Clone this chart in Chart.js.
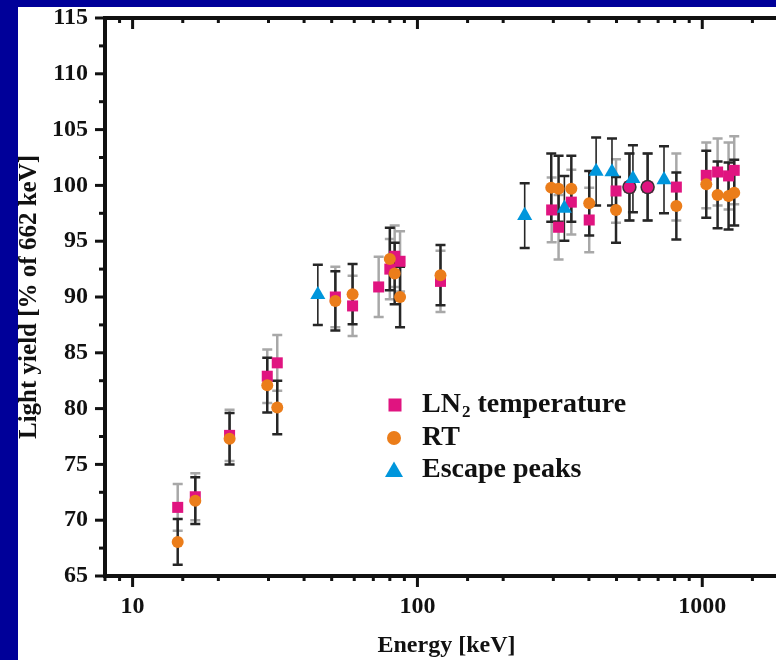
<!DOCTYPE html>
<html>
<head>
<meta charset="utf-8">
<script src="https://cdn.jsdelivr.net/npm/chart.js@4.4.1/dist/chart.umd.min.js"></script>
<style>
    html, body { margin: 0; padding: 0; overflow: hidden; background: #000099; width: 776px; height: 660px; }
    #paper { position: absolute; left: 18px; top: 7px; width: 800px; height: 700px; background: #fff; }
    #chart { position: absolute; left: 0; top: 0; }
</style>
</head>
<body>
<div id="paper"></div>
<canvas id="chart" width="800" height="660"></canvas>
<script>
// LN2 temperature (squares)
const ln2Energy = [14.4, 16.6, 21.9, 29.7, 32.2, 51.5, 59.2, 73.1, 80.0, 83.2, 86.9, 120.5, 296, 313, 347, 401, 498, 555, 643, 811, 1033, 1132, 1237, 1295];
const ln2Yield  = [71.15, 72.1, 77.6, 82.9, 84.1, 90.0, 89.2, 90.9, 92.5, 93.65, 93.2, 91.4, 97.8, 96.25, 98.5, 96.9, 99.5, 99.85, 99.85, 99.85, 100.9, 101.2, 100.85, 101.35];
const ln2Err    = [2.1, 2.1, 2.3, 2.4, 2.5, 2.7, 2.7, 2.7, 2.7, 2.75, 2.7, 2.75, 2.9, 2.9, 2.9, 2.9, 2.85, 3.0, 3.0, 3.0, 2.95, 3.0, 3.0, 3.05];

// room temperature (circles)
const rtEnergy = [14.4, 16.6, 21.9, 29.7, 32.2, 51.5, 59.2, 80.0, 83.2, 86.9, 120.5, 295, 313, 347, 401, 498, 555, 643, 811, 1033, 1132, 1237, 1295];
const rtYield  = [68.05, 71.75, 77.3, 82.1, 80.1, 89.65, 90.25, 93.4, 92.1, 90.0, 91.95, 99.8, 99.7, 99.7, 98.4, 97.8, 99.85, 99.85, 98.15, 100.1, 99.15, 99.05, 99.35];
const rtErr    = [2.05, 2.1, 2.3, 2.45, 2.4, 2.65, 2.7, 2.8, 2.75, 2.7, 2.7, 3.05, 2.95, 2.95, 2.9, 2.95, 3.0, 3.0, 3.0, 3.0, 3.0, 3.0, 2.95];
// RT points drawn as outlined magenta dots (the ones sitting on the LN2 squares)
const rtOverlapIdx = [16, 17];

// escape peaks (triangles)
const escEnergy = [44.7, 238, 328, 424, 482, 571, 734];
const escYield  = [90.2, 97.3, 97.95, 101.25, 101.2, 100.6, 100.5];
const escErr    = [2.7, 2.9, 2.9, 3.05, 3.0, 3.0, 3.0];

const xLabelled = [10, 100, 1000];
const seriesNames = ['LN2 temperature', 'RT', 'Escape peaks'];

const FONT = "'Liberation Serif', 'Times New Roman', serif";
const INK = '#111111';
const MAGENTA = '#E01480';
const ORANGE = '#EB7D1A';
const BLUE = '#0096DC';

const toPoints = (xs, ys, es) => xs.map((x, i) => ({ x: x, y: ys[i], err: es[i] }));

// kill the automatic label overflow padding so the plot box sits where we want it
const noPad = (s) => { s.paddingTop = 0; s.paddingBottom = 0; s.paddingLeft = 0; s.paddingRight = 0; };

// error bars, drawn under the markers
const errorBars = {
    id: 'errorBars',
    beforeDatasetsDraw(chart) {
        const { ctx, scales: { x, y } } = chart;
        chart.data.datasets.forEach((ds, i) => {
            if (!chart.isDatasetVisible(i)) return;
            const cap = 5;
            ctx.save();
            ctx.strokeStyle = ds.errColor;
            ds.data.forEach(p => {
                const px = x.getPixelForValue(p.x);
                const top = y.getPixelForValue(p.y + p.err);
                const bot = y.getPixelForValue(p.y - p.err);
                ctx.lineWidth = ds.errWidth;
                ctx.beginPath();
                ctx.moveTo(px, top); ctx.lineTo(px, bot);
                ctx.stroke();
                ctx.lineWidth = 2.5;
                ctx.beginPath();
                ctx.moveTo(px - cap, top); ctx.lineTo(px + cap, top);
                ctx.moveTo(px - cap, bot); ctx.lineTo(px + cap, bot);
                ctx.stroke();
            });
            ctx.restore();
        });
    }
};

// top frame line + tick marks (minor short, major long)
const frameTicks = {
    id: 'frameTicks',
    afterDraw(chart) {
        const { ctx, chartArea: a, scales: { x, y } } = chart;
        ctx.save();
        ctx.strokeStyle = INK;
        ctx.lineWidth = 4;
        ctx.beginPath();
        ctx.moveTo(a.left - 2, a.top);
        ctx.lineTo(chart.width, a.top);
        ctx.stroke();

        ctx.lineWidth = 3;
        x.ticks.forEach(t => {
            const px = x.getPixelForValue(t.value);
            const major = xLabelled.some(v => Math.abs(v - t.value) < 1e-6);
            const len = major ? 9 : 3;
            ctx.beginPath();
            ctx.moveTo(px, a.bottom + 2); ctx.lineTo(px, a.bottom + 2 + len);
            ctx.moveTo(px, a.top + 2); ctx.lineTo(px, a.top + 2 + len);
            ctx.stroke();
        });
        for (let v = y.min; v <= y.max + 1e-6; v += 2.5) {
            const py = y.getPixelForValue(v);
            const major = Math.abs(v % 5) < 1e-6;
            const len = major ? 8 : 4;
            ctx.beginPath();
            ctx.moveTo(a.left - 2, py); ctx.lineTo(a.left - 2 - len, py);
            ctx.stroke();
        }
        ctx.restore();
    }
};

// legend inside the plot
const insideLegend = {
    id: 'insideLegend',
    afterDatasetsDraw(chart) {
        const { ctx } = chart;
        const mx = 395, tx = 422, rows = [405, 438, 470];
        ctx.save();
        ctx.fillStyle = MAGENTA;
        ctx.fillRect(mx - 6.5, rows[0] - 6.5, 13, 13);
        ctx.fillStyle = ORANGE;
        ctx.beginPath(); ctx.arc(mx - 1, rows[1], 7, 0, Math.PI * 2); ctx.fill();
        ctx.fillStyle = BLUE;
        ctx.beginPath();
        ctx.moveTo(mx - 1, rows[2] - 8.5);
        ctx.lineTo(mx - 10, rows[2] + 7);
        ctx.lineTo(mx + 8, rows[2] + 7);
        ctx.closePath(); ctx.fill();

        ctx.fillStyle = INK;
        ctx.textBaseline = 'middle';
        ctx.textAlign = 'left';
        ctx.font = 'bold 28px ' + FONT;
        ctx.fillText('LN', tx, rows[0]);
        let w = ctx.measureText('LN').width;
        ctx.font = 'bold 17px ' + FONT;
        ctx.fillText('2', tx + w + 1, rows[0] + 8);
        w += ctx.measureText('2').width + 1;
        ctx.font = 'bold 28px ' + FONT;
        ctx.fillText(' temperature', tx + w, rows[0]);
        ctx.fillText(seriesNames[1], tx, rows[1]);
        ctx.fillText(seriesNames[2], tx, rows[2]);
        ctx.restore();
    }
};

const isOverlap = (c) => rtOverlapIdx.includes(c.dataIndex);

new Chart(document.getElementById('chart'), {
    type: 'scatter',
    data: {
        datasets: [
            {
                label: seriesNames[0],
                data: toPoints(ln2Energy, ln2Yield, ln2Err),
                pointStyle: 'rect',
                pointRadius: 7.8,
                backgroundColor: MAGENTA,
                borderWidth: 0,
                errColor: '#A8A8A8',
                errWidth: 2.5,
                order: 3
            },
            {
                label: seriesNames[1],
                data: toPoints(rtEnergy, rtYield, rtErr),
                pointStyle: 'circle',
                pointRadius: (c) => isOverlap(c) ? 6.5 : 6,
                backgroundColor: (c) => isOverlap(c) ? MAGENTA : ORANGE,
                borderColor: '#333333',
                borderWidth: (c) => isOverlap(c) ? 1.5 : 0,
                errColor: '#262626',
                errWidth: 2.5,
                order: 2
            },
            {
                label: seriesNames[2],
                data: toPoints(escEnergy, escYield, escErr),
                pointStyle: 'triangle',
                pointRadius: 8.7,
                backgroundColor: BLUE,
                borderWidth: 0,
                errColor: '#262626',
                errWidth: 1.6,
                order: 1
            }
        ]
    },
    options: {
        responsive: false,
        animation: false,
        events: [],
        layout: { padding: { left: 0, top: 18, right: 12, bottom: 0 } },
        plugins: { legend: { display: false }, tooltip: { enabled: false } },
        scales: {
            x: {
                type: 'logarithmic',
                min: 8,
                max: 2000,
                grid: { display: false, drawTicks: false },
                border: { display: true, width: 4, color: INK },
                ticks: {
                    autoSkip: false,
                    maxRotation: 0,
                    padding: 16,
                    color: INK,
                    font: { family: FONT, size: 24, weight: 'bold' },
                    callback: (v) => xLabelled.some(t => Math.abs(t - v) < 1e-6) ? String(v) : ''
                },
                title: {
                    display: true,
                    text: 'Energy [keV]',
                    color: INK,
                    font: { family: FONT, size: 24, weight: 'bold' },
                    padding: { top: 0, bottom: 0 }
                },
                afterFit: (s) => { s.height = 84; noPad(s); }
            },
            y: {
                min: 65,
                max: 115,
                grid: { display: false, drawTicks: false },
                border: { display: true, width: 4, color: INK },
                ticks: {
                    stepSize: 5,
                    padding: 17,
                    color: INK,
                    font: { family: FONT, size: 24, weight: 'bold' }
                },
                title: {
                    display: true,
                    text: 'Light yield [% of 662 keV]',
                    color: INK,
                    font: { family: FONT, size: 25, weight: 'bold' },
                    padding: { top: 15, bottom: 0 }
                },
                afterFit: (s) => { s.width = 105; noPad(s); }
            }
        }
    },
    plugins: [errorBars, frameTicks, insideLegend]
});
</script>
</body>
</html>
